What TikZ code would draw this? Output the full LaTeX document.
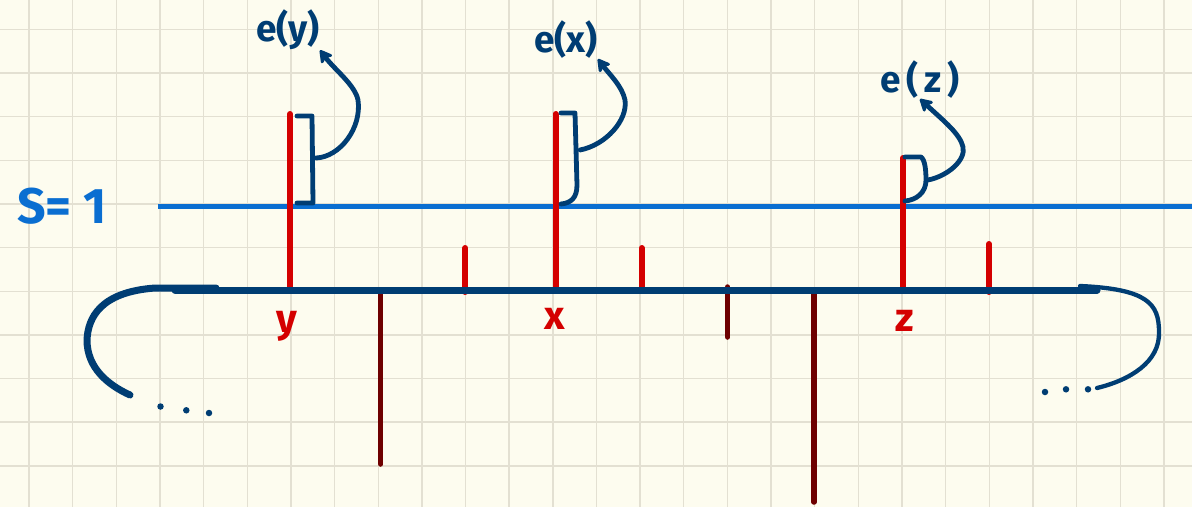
\documentclass[tikz,border=0pt]{standalone}
\usepackage{fontspec}
\setmainfont{Fira Sans}
\usetikzlibrary{arrows.meta}
\definecolor{paper}{HTML}{FDFCEF}
\definecolor{gridc}{HTML}{E3E0D2}
\definecolor{sblue}{HTML}{0A6ED1}
\definecolor{navy}{HTML}{003D73}
\definecolor{pred}{HTML}{D40000}
\definecolor{maroon}{HTML}{6E0000}
\tikzset{
  redline/.style={pred,line width=6pt,line cap=round},
  darkline/.style={maroon,line width=5.5pt,line cap=round},
  navyline/.style={navy,line width=7pt,line cap=round},
  bracketline/.style={navy,line width=4.8pt,line cap=round,line join=round},
  curlarrow/.style={navy,line width=4.8pt,line cap=round,-{Stealth[length=15pt,width=17pt,inset=4pt,round]}},
  elabel/.style={navy,font=\fontsize{37}{39}\selectfont\bfseries,inner sep=0pt},
  rlabel/.style={pred,font=\fontsize{40}{42}\selectfont\bfseries,inner sep=0pt},
  dotc/.style={circle,fill=navy,inner sep=0pt,minimum size=6.5pt},
}
\begin{document}
\begin{tikzpicture}[x=1pt,y=-1pt]
\useasboundingbox (0,0) rectangle (1192,507);
\fill[paper] (0,0) rectangle (1192,507);
% grid
\foreach \i in {0,...,26} {\draw[gridc,line width=1.4pt] ({29+43.65*\i},0) -- ({29+43.65*\i},507);}
\foreach \j in {0,...,11} {\draw[gridc,line width=1.4pt] (0,{29.3+43.65*\j}) -- (1192,{29.3+43.65*\j});}

% coordinates
\coordinate (sL) at (158,206);
\coordinate (sR) at (1192,206);
\coordinate (mL) at (175,290);
\coordinate (mR) at (1097,290);

% s = 1 line
\node[sblue,font=\fontsize{50}{52}\selectfont\bfseries,inner sep=0pt] (s1) at (62,206) {S= 1};
\draw[sblue,line width=5pt] (sL) -- (sR);

% red tall lines
\coordinate (yT) at (290,114); \coordinate (yB) at (290,289);
\coordinate (xT) at (555.5,114); \coordinate (xB) at (555.5,289);
\coordinate (zT) at (903,158); \coordinate (zB) at (903,289);
\draw[redline] (yT) -- (yB);
\draw[redline] (xT) -- (xB);
\draw[redline] (zT) -- (zB);
% short red ticks
\coordinate (t1T) at (465.3,248); \coordinate (t1B) at (465.3,292);
\coordinate (t2T) at (641.7,248); \coordinate (t2B) at (641.7,288);
\coordinate (t3T) at (989,244); \coordinate (t3B) at (989,292);
\draw[redline] (t1T) -- (t1B);
\draw[redline] (t2T) -- (t2B);
\draw[redline] (t3T) -- (t3B);

% maroon lines down
\coordinate (d1T) at (380.7,291); \coordinate (d1B) at (380.7,464);
\coordinate (d2T) at (727.7,287); \coordinate (d2B) at (727.7,337);
\coordinate (d3T) at (814,291); \coordinate (d3B) at (814,502);
\draw[darkline] (d1T) -- (d1B);
\draw[darkline] (d2T) -- (d2B);
\draw[darkline] (d3T) -- (d3B);

% main navy line with curled ends
\draw[navyline] (mL) -- (mR);
\coordinate (lc0) at (216,288);
\coordinate (lc1) at (87,340);
\coordinate (lc2) at (130,395);
\draw[navyline,line join=round] (lc0) -- (155,288) .. controls (100,292) and (88,318) .. (lc1) .. controls (87,368) and (108,385) .. (lc2);
\coordinate (rc0) at (1080,286);
\coordinate (rc1) at (1159,332);
\coordinate (rc2) at (1097,388);
\draw[navy,line width=4.3pt,line cap=round] (rc0) .. controls (1148,289) and (1159,304) .. (rc1) .. controls (1160,362) and (1130,380) .. (rc2);

% dots
\node[dotc] (dl1) at (160.5,406.5) {};
\node[dotc] (dl2) at (186.3,410.3) {};
\node[dotc] (dl3) at (209,413) {};
\node[dotc] (dr1) at (1045,392) {};
\node[dotc] (dr2) at (1066,389.3) {};
\node[dotc] (dr3) at (1088,389.3) {};

% red labels
\node[rlabel] (ly) at (287,326) {y};
\node[rlabel] (lx) at (555,319) {x};
\node[rlabel] (lz) at (905,321) {z};

% e labels
\node[elabel] (ey) at (288,30) {e(y)};
\node[elabel] (ex) at (566,40) {e(x)};
\node[elabel] (ez) at (920,80) {e\,(\,z\,)};

% brackets
\draw[bracketline] (297,116) -- (312,116) -- (313,203) -- (297,203);
\draw[bracketline] (561,113) -- (575,113) -- (577,185) .. controls (577,198) and (571,203) .. (561,204);
\draw[bracketline] (905,157) -- (921,157) .. controls (925,160) and (926,170) .. (926,180) .. controls (926,193) and (916,200) .. (905,201);

% curly arrows
\coordinate (ay0) at (316,158);
\coordinate (ax0) at (580,150);
\coordinate (az0) at (928,180);
\draw[curlarrow] (ay0) .. controls (340,157) and (362,128) .. (358,100) .. controls (355,85) and (335,70) .. (ey.south east);
\draw[curlarrow] (ax0) .. controls (606,145) and (628,120) .. (625,100) .. controls (622,86) and (610,75) .. (ex.south east);
\draw[curlarrow] (az0) .. controls (948,176) and (966,160) .. (963,147) .. controls (960,134) and (945,122) .. (ez.south);
\end{tikzpicture}
\end{document}
